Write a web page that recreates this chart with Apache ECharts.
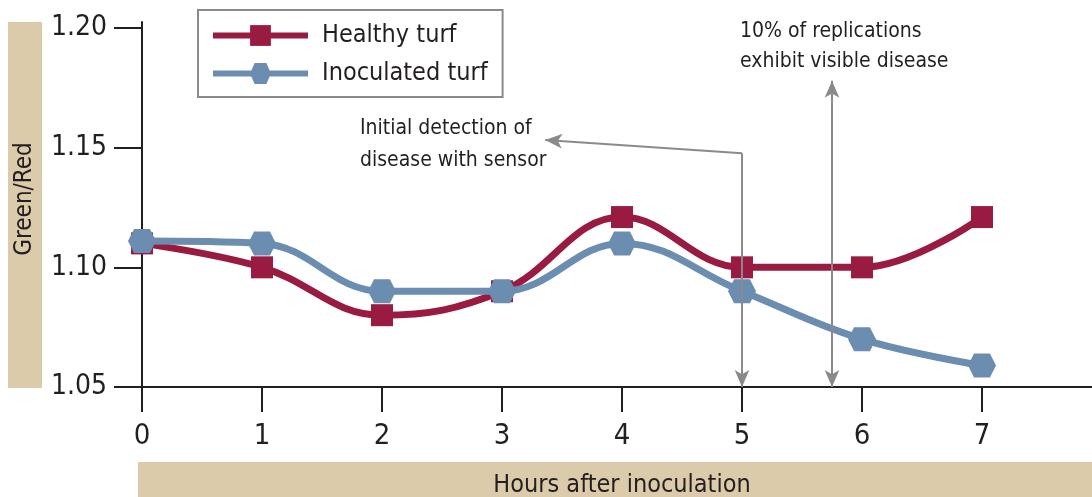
<!DOCTYPE html>
<html><head><meta charset="utf-8">
<script src="https://cdn.jsdelivr.net/npm/echarts@6/dist/echarts.min.js"></script>
<style>html,body{margin:0;padding:0;background:#fff}#c{width:1092px;height:497px}</style>
</head><body><div id="c"></div>
<script>
const hours = [0, 1, 2, 3, 4, 5, 6, 7];
const healthy = [1.110, 1.100, 1.080, 1.090, 1.121, 1.100, 1.100, 1.121];
const inoculated = [1.111, 1.110, 1.090, 1.090, 1.110, 1.090, 1.070, 1.059];
const yTicks = [1.05, 1.10, 1.15, 1.20];
const seriesNames = ['Healthy turf', 'Inoculated turf'];
const detectionAt = 5, detectionLevel = 1.1477, detectionTip = [3.36, 1.1532];
const visibleAt = 5.75, visibleTop = 1.178;

const FONT = "'Liberation Sans Narrow', 'DejaVu Sans Condensed', 'Roboto Condensed', 'Liberation Sans', sans-serif";
const RED = '#9a1b41', BLUE = '#6a8db0', GREY = '#8a8a8c', INK = '#231f20', TAN = '#dccbaa';
const HEX = 'path://M0,5 L2.6,0 L9.4,0 L12,5 L9.4,10 L2.6,10 Z';

const chart = echarts.init(document.getElementById('c'));
chart.setOption({
  animation: false,
  textStyle: { fontFamily: FONT },
  grid: { left: 142, right: 0, top: 22, bottom: 110, containLabel: false },
  xAxis: {
    type: 'value', min: 0, max: 950 / 120, interval: 1,
    axisLine: { lineStyle: { color: INK, width: 2 } },
    axisTick: { length: 25, inside: false, lineStyle: { color: INK, width: 2 }, customValues: hours },
    axisLabel: { customValues: hours, margin: 35, fontSize: 29, color: INK, fontFamily: FONT },
    splitLine: { show: false }
  },
  yAxis: {
    type: 'value', min: 1.05, max: 1.2025, interval: 0.05,
    axisLine: { show: true, lineStyle: { color: INK, width: 2 } },
    axisTick: { show: true, length: 28, lineStyle: { color: INK, width: 2 }, customValues: yTicks },
    axisLabel: { customValues: yTicks, margin: 35, fontSize: 28, color: INK, fontFamily: FONT,
      formatter: v => v.toFixed(2) },
    splitLine: { show: false }
  },
  legend: {
    left: 198, top: 10, orient: 'vertical',
    borderColor: '#8a8a8a', borderWidth: 2, borderRadius: 0,
    padding: [13, 15, 11, 12], itemGap: 13,
    itemWidth: 95, itemHeight: 26,
    lineStyle: { width: 6 },
    textStyle: { fontSize: 25, color: INK, fontFamily: FONT, padding: [0, 0, 0, 9] },
    data: seriesNames
  },
  graphic: [
    { type: 'rect', shape: { x: 8, y: 22, width: 34, height: 366 }, style: { fill: TAN }, z: 0 },
    { type: 'text', x: 25, y: 199, rotation: Math.PI / 2,
      style: { text: 'Green/Red', fill: INK, font: '24px ' + FONT, align: 'center', verticalAlign: 'middle' } },
    { type: 'rect', shape: { x: 138, y: 462, width: 954, height: 40 }, style: { fill: TAN }, z: 0 },
    { type: 'text', x: 622, y: 485,
      style: { text: 'Hours after inoculation', fill: INK, font: '25px ' + FONT, align: 'center', verticalAlign: 'middle' } },
    { type: 'text', x: 360, y: 113,
      style: { text: 'Initial detection of\ndisease with sensor', fill: INK, font: '21px ' + FONT, lineHeight: 32 } },
    { type: 'text', x: 740, y: 17,
      style: { text: '10% of replications\nexhibit visible disease', fill: INK, font: '21px ' + FONT, lineHeight: 30 } }
  ],
  series: [
    {
      name: seriesNames[0], type: 'line', smooth: 0.4,
      data: hours.map((h, i) => [h, healthy[i]]),
      symbol: 'rect', symbolSize: 22, showAllSymbol: true,
      lineStyle: { color: RED, width: 7 }, itemStyle: { color: RED }, z: 2
    },
    {
      name: seriesNames[1], type: 'line', smooth: 0.4,
      data: hours.map((h, i) => [h, inoculated[i]]),
      symbol: HEX, symbolSize: [28, 24], showAllSymbol: true,
      lineStyle: { color: BLUE, width: 7 }, itemStyle: { color: BLUE }, z: 3
    },
    {
      name: 'annotations', type: 'line', data: [], z: 5,
      markLine: {
        silent: true, animation: false,
        symbolSize: [11, 17],
        lineStyle: { color: GREY, width: 2, type: 'solid' },
        label: { show: false },
        data: [
          [{ coord: [detectionAt, detectionLevel], symbol: 'none' }, { coord: [detectionAt, 1.05], symbol: 'arrow' }],
          [{ coord: [detectionAt, detectionLevel], symbol: 'none' }, { coord: detectionTip, symbol: 'arrow' }],
          [{ coord: [visibleAt, 1.05], symbol: 'arrow' }, { coord: [visibleAt, visibleTop], symbol: 'arrow' }]
        ]
      }
    }
  ]
});
</script></body></html>
